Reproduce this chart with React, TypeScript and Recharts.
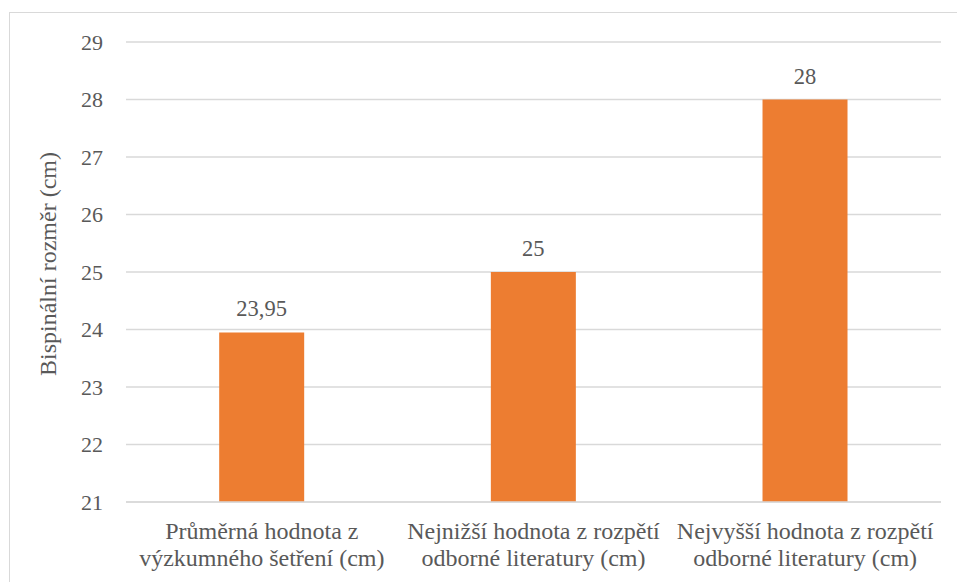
import React from "react";
import { BarChart, Bar, XAxis, YAxis, CartesianGrid, LabelList } from "recharts";

const categories = [
  "Průměrná hodnota z výzkumného šetření (cm)",
  "Nejnižší hodnota z rozpětí odborné literatury (cm)",
  "Nejvyšší hodnota z rozpětí odborné literatury (cm)",
];
const categoryLines = [
  ["Průměrná hodnota z", "výzkumného šetření (cm)"],
  ["Nejnižší hodnota z rozpětí", "odborné literatury (cm)"],
  ["Nejvyšší hodnota z rozpětí", "odborné literatury (cm)"],
];
const values = [23.95, 25, 28];
const valueLabels = ["23,95", "25", "28"];
const yTicks = [21, 22, 23, 24, 25, 26, 27, 28, 29];
const yAxisTitle = "Bispinální rozměr (cm)";

const data = categories.map((c, i) => ({
  name: c,
  idx: i,
  value: values[i],
  label: valueLabels[i],
}));

const FONT = "'Times New Roman', 'Liberation Serif', 'DejaVu Serif', serif";
const TEXT = "#595959";

const renderXTick = (props: any) => {
  const { x, y, payload } = props;
  const lines = categoryLines[payload.index] || [String(payload.value)];
  return (
    <text
      key={`xt-${payload.index}`}
      x={x}
      y={y}
      textAnchor="middle"
      fill={TEXT}
      fontSize={24}
      style={{ fontFamily: FONT }}
    >
      {lines.map((l: string, i: number) => (
        <tspan key={i} x={x} dy={i === 0 ? 37 : 27}>
          {l}
        </tspan>
      ))}
    </text>
  );
};

const renderYTick = (props: any) => {
  const { x, y, payload } = props;
  return (
    <text
      key={`yt-${payload.value}`}
      x={x}
      y={y}
      textAnchor="end"
      dominantBaseline="central"
      fill={TEXT}
      fontSize={22}
      style={{ fontFamily: FONT }}
    >
      {String(payload.value)}
    </text>
  );
};

const renderValueLabel = (props: any) => {
  const { x, y, width, value, index } = props;
  return (
    <text
      key={`vl-${index}`}
      x={Number(x) + Number(width) / 2}
      y={Number(y) - 16}
      textAnchor="middle"
      fill={TEXT}
      fontSize={22.5}
      style={{ fontFamily: FONT }}
    >
      {value}
    </text>
  );
};

const renderYTitle = (props: any) => {
  const vb = props.viewBox || {};
  const cx = (vb.x ?? 0) + 18;
  const cy = (vb.y ?? 0) + (vb.height ?? 0) / 2 - 8;
  return (
    <text
      x={cx}
      y={cy}
      transform={`rotate(-90, ${cx}, ${cy})`}
      textAnchor="middle"
      dominantBaseline="central"
      fill={TEXT}
      fontSize={24}
      style={{ fontFamily: FONT }}
    >
      {yAxisTitle}
    </text>
  );
};

export default function App() {
  return (
    <div style={{ position: "absolute", left: 0, top: 0, width: 957, height: 582, background: "#fff", overflow: "hidden", fontFamily: FONT }}>
      <div
        style={{
          position: "absolute",
          left: 9,
          top: 12,
          width: 960,
          height: 590,
          border: "1px solid #d9d9d9",
          boxSizing: "border-box",
        }}
      />
      <div style={{ position: "absolute", left: 0, top: 0, fontFamily: FONT }}>
        <BarChart
          width={957}
          height={582}
          data={data}
          margin={{ top: 42, right: 16, bottom: 50, left: 30 }}
          barCategoryGap="34.3%"
          style={{ fontFamily: FONT }}
        >
          <CartesianGrid vertical={false} stroke="#d9d9d9" strokeWidth={1.3} />
          <XAxis
            dataKey="name"
            height={30}
            axisLine={{ stroke: "#d9d9d9", strokeWidth: 1.3 }}
            tickLine={false}
            tickSize={0}
            tickMargin={0}
            interval={0}
            tick={renderXTick}
          />
          <YAxis
            width={96}
            domain={[21, 29]}
            ticks={yTicks}
            interval={0}
            axisLine={false}
            tickLine={false}
            tickSize={0}
            tickMargin={23}
            tick={renderYTick}
            label={{ content: renderYTitle }}
          />
          <Bar dataKey="value" fill="#ED7D31" isAnimationActive={false}>
            <LabelList dataKey="label" content={renderValueLabel} />
          </Bar>
        </BarChart>
      </div>
    </div>
  );
}
